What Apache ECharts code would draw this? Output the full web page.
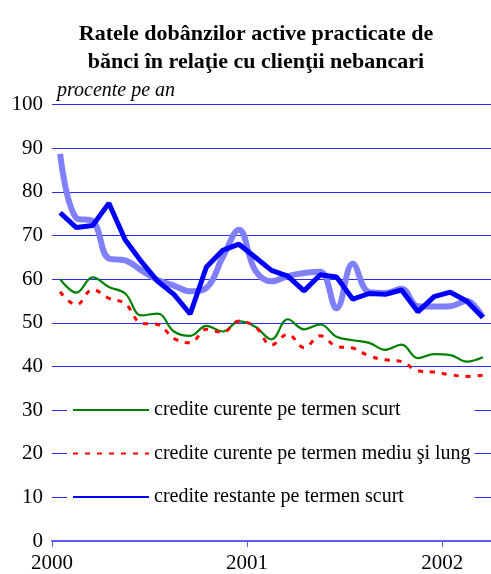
<!DOCTYPE html>
<html lang="ro">
<head>
  <meta charset="UTF-8">
  <title>Ratele dobânzilor active</title>
  <style>
    html, body { margin: 0; padding: 0; background: #fff; }
    #chart { width: 491px; height: 574px; }
  </style>
</head>
<body>
  <div id="chart"></div>
  <script src="https://cdn.jsdelivr.net/npm/echarts@6/dist/echarts.min.js"></script>
  <script>
    // lunar, ian 2000 - mar 2002
    const startYear = 2000;
    const curenteScurt = [60, 56.9, 60.4, 58.2, 56.7, 51.7, 52.1, 48, 47, 49.3, 48, 50.3, 49.1, 46.2,
      50.8, 48.5, 49.6, 46.8, 46, 45.4, 43.8, 45, 41.9, 42.8, 42.6, 41.1, 42.1];
    const curenteMediu = [57.1, 54.1, 57.6, 55.6, 54.4, 49.9, 49.6, 46.4, 45.4, 48.5, 47.8, 50.4, 49.1, 44.9,
      47.4, 44.3, 47, 44.6, 44.2, 42.4, 41.5, 41.1, 39, 38.7, 38.1, 37.7, 38];
    const restanteScurt = [75.2, 71.8, 72.3, 77.4, 69, 64, 59.5, 56.5, 52, 62.8, 66.6, 68, 65, 62,
      60.7, 57.3, 61, 60.5, 55.4, 56.7, 56.5, 57.5, 52.5, 56, 57, 55, 51.2];
    const restanteMediu = [88.7, 74, 73.3, 64.7, 64.3, 62, 59.8, 58.5, 57.2, 58, 65, 71.3, 62, 59.5,
      60.7, 61.4, 61.7, 53.3, 63.5, 57, 56.8, 57.8, 53.8, 53.7, 53.8, 55, 51.2];

    const names = [
      'credite curente pe termen scurt',
      'credite curente pe termen mediu şi lung',
      'credite restante pe termen scurt',
      'credite restante pe termen mediu şi lung'
    ];

    const toPoints = arr => arr.map((v, i) => [i + 0.5, v]);
    const serif = 'Liberation Serif';

    const chart = echarts.init(document.getElementById('chart'));
    chart.setOption({
      backgroundColor: '#fff',
      animation: false,
      title: [{
        text: 'Ratele dobânzilor active practicate de\nbănci în relaţie cu clienţii nebancari',
        left: 251,
        textAlign: 'center',
        top: 15,
        textStyle: {
          fontFamily: serif,
          fontWeight: 'bold',
          fontSize: 22,
          lineHeight: 28,
          color: '#000'
        }
      }, {
        text: 'procente pe an',
        left: 52,
        top: 76,
        textStyle: {
          fontFamily: serif,
          fontStyle: 'italic',
          fontWeight: 'normal',
          fontSize: 20,
          color: '#000'
        }
      }],
      grid: { left: 52, right: 0, top: 104.5, bottom: 32.5 },
      legend: {
        data: names.slice(0, 3),
        orient: 'vertical',
        left: 67,
        top: 385,
        padding: [15, 4, 15, 5],
        itemWidth: 76,
        itemHeight: 14,
        itemGap: 23.5,
        backgroundColor: '#fff',
        itemStyle: { opacity: 0 },
        textStyle: { fontFamily: serif, fontSize: 20, color: '#000' }
      },
      xAxis: {
        type: 'value',
        min: 0,
        max: 27,
        interval: 12,
        splitLine: { show: false },
        axisLine: { show: true, lineStyle: { color: '#5a5aff', width: 2 } },
        axisTick: { show: true, length: 6, lineStyle: { color: '#5a5aff', width: 1 } },
        axisLabel: {
          margin: 12,
          fontFamily: serif,
          fontSize: 21,
          color: '#000',
          formatter: v => String(startYear + v / 12)
        }
      },
      yAxis: {
        type: 'value',
        min: 0,
        max: 100,
        interval: 10,
        axisLine: { show: false },
        axisTick: { show: false },
        splitLine: { lineStyle: { color: '#2a2aff', width: 1 } },
        axisLabel: { margin: 9, fontFamily: serif, fontSize: 21, color: '#000' }
      },
      series: [{
        name: names[3],
        type: 'line',
        symbol: 'none',
        smooth: 0.4,
        lineStyle: { color: '#8080ff', width: 6 },
        itemStyle: { color: '#8080ff' },
        data: toPoints(restanteMediu)
      }, {
        name: names[2],
        type: 'line',
        symbol: 'none',
        lineStyle: { color: '#0000ff', width: 5 },
        itemStyle: { color: '#0000ff' },
        data: toPoints(restanteScurt)
      }, {
        name: names[0],
        type: 'line',
        symbol: 'none',
        smooth: 0.4,
        lineStyle: { color: '#008000', width: 2.2 },
        itemStyle: { color: '#008000' },
        data: toPoints(curenteScurt)
      }, {
        name: names[1],
        type: 'line',
        symbol: 'none',
        smooth: 0.4,
        lineStyle: { color: '#ff0000', width: 3, type: [5, 7] },
        itemStyle: { color: '#ff0000' },
        data: toPoints(curenteMediu)
      }]
    });
  </script>
</body>
</html>
